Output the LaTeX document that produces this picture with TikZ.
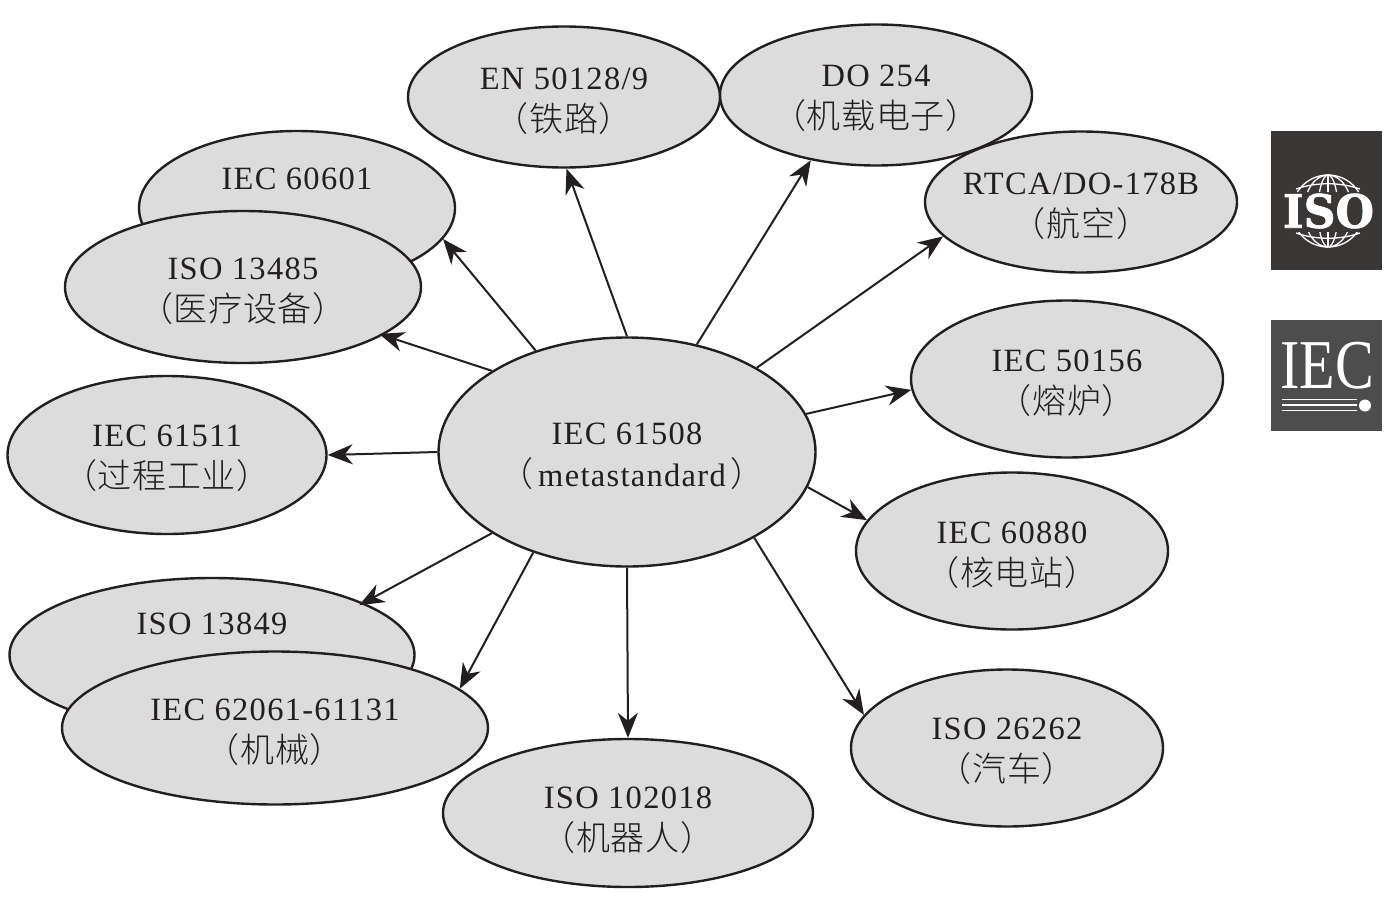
\documentclass[tikz,border=0pt]{standalone}
\usepackage{fontspec}
\setmainfont[LetterSpace=4]{Liberation Serif}
\newfontfamily\cjk[LetterSpace=2]{Noto Sans CJK SC Light}
\newfontfamily\logobf[FakeBold=1.6]{DejaVu Serif Bold}
\newfontfamily\logorm{Liberation Serif}
\usetikzlibrary{shapes.geometric,arrows.meta}
\newcommand{\zh}[1]{{\fontsize{34}{42}\selectfont\cjk #1}}
\definecolor{bubblefill}{HTML}{DCDCDD}
\definecolor{isogrey}{HTML}{3A3636}
\definecolor{iecgrey}{HTML}{4D4D4D}
\definecolor{inkdark}{HTML}{231F20}
\tikzset{
  bubble/.style n args={2}{ellipse,draw=inkdark,fill=bubblefill,line width=2.4pt,inner sep=0pt,
    minimum width=#1pt,minimum height=#2pt},
  tag/.style={text=inkdark,inner sep=0pt,align=center,font=\fontsize{32.5}{42}\selectfont},
  say/.style={label={[tag,yshift=-3.8pt]center:{#1}}},
  link/.style={draw=inkdark,line width=2pt,-{Stealth[length=25pt,width=20pt,inset=8pt]}},
  globeline/.style={draw=white,line width=1.3pt},
}
\begin{document}
\begin{tikzpicture}[x=1pt,y=-1pt]
\useasboundingbox (0,0) rectangle (1400,900);
\node[bubble={316}{154}] (med1) at (297,208) {};
\node[tag] (med1t) at (297,178.5) {IEC 60601};
\node[bubble={356}{152},say={ISO 13485\\\zh{（医疗设备）}}] (med2) at (243,287) {};
\node[bubble={312}{141},say={EN 50128/9\\\zh{（铁路）}}] (rail) at (564,97) {};
\node[bubble={312}{141},say={DO 254\\\zh{（机载电子）}}] (avio) at (876,95) {};
\node[bubble={312}{141},say={RTCA/DO-178B\\\zh{（航空）}}] (aero) at (1081,202) {};
\node[bubble={312}{157},say={IEC 50156\\\zh{（熔炉）}}] (furn) at (1067,379) {};
\node[bubble={312}{157},say={IEC 60880\\\zh{（核电站）}}] (nucl) at (1012,551) {};
\node[bubble={312}{157},say={ISO 26262\\\zh{（汽车）}}] (auto) at (1007,748) {};
\node[bubble={370}{148}] (robo) at (628,813) {};
\node[tag] (robot) at (628,820) {ISO 102018\\\zh{（机器人）}};
\node[bubble={319}{158},say={IEC 61511\\\zh{（过程工业）}}] (proc) at (167,455) {};
\node[bubble={405}{154}] (mach1) at (212,655) {};
\node[tag] (mach1t) at (212,623.5) {ISO 13849};
\node[bubble={426}{153},say={IEC 62061-61131\\\zh{（机械）}}] (mach2) at (275,728) {};
\node[bubble={377}{229},say={IEC 61508\\\hspace*{10pt}\zh{（}\hspace{5pt}metastandard\hspace{5pt}\zh{）}}] (meta) at (627,452) {};

\draw[link] (meta.132.6) -- (med1.-12.2);
\draw[link,shorten >=-4pt] (meta.149.5) -- (med2.-19.8);
\draw[link] (meta.180) -- (proc.-0.4);
\draw[link,shorten >=-5pt] (meta.211) -- (mach1.19.6);
\draw[link] (meta.227) -- (mach2.12.8);
\draw[link] (meta.270) -- (robo.90.4);
\draw[link] (meta.-34) -- (auto.167.2);
\draw[link] (meta.-11.4) -- (nucl.168.5);
\draw[link] (meta.12) -- (furn.184.4);
\draw[link] (meta.33.6) -- (aero.194.7);
\draw[link] (meta.57.6) -- (avio.225);
\draw[link] (meta.90) -- (rail.-88);

% ISO logo
\fill[isogrey] (1271,131) rectangle (1382,270);
\begin{scope}
  \clip (1280,170) rectangle (1376,192) (1280,232) rectangle (1376,252);
  \draw[globeline] (1328,211) circle (36);
  \draw[globeline] (1328,211) ellipse (24 and 36);
  \draw[globeline] (1328,211) ellipse (10 and 36);
  \draw[globeline] (1328,175) -- (1328,247);
  \draw[globeline] (1296,189) .. controls (1316,182) and (1340,182) .. (1360,189);
  \draw[globeline] (1296,233) .. controls (1316,240) and (1340,240) .. (1360,233);
\end{scope}
\node[text=white,inner sep=0pt,font=\logobf\fontsize{46}{46}\selectfont,xscale=0.96] (isotext) at (1328.5,211) {ISO};
% IEC logo
\fill[iecgrey] (1271,320) rectangle (1382,431);
\node[text=white,inner sep=0pt,font=\logorm\fontsize{70}{70}\selectfont,xscale=0.83] (iectext) at (1327,366) {IEC};
\draw[white,line width=1.6pt] (1282,399.5) -- (1357,399.5) (1282,405) -- (1357,405) (1282,410.5) -- (1357,410.5);
\fill[white] (1365,405.5) circle (6);
\end{tikzpicture}
\end{document}
